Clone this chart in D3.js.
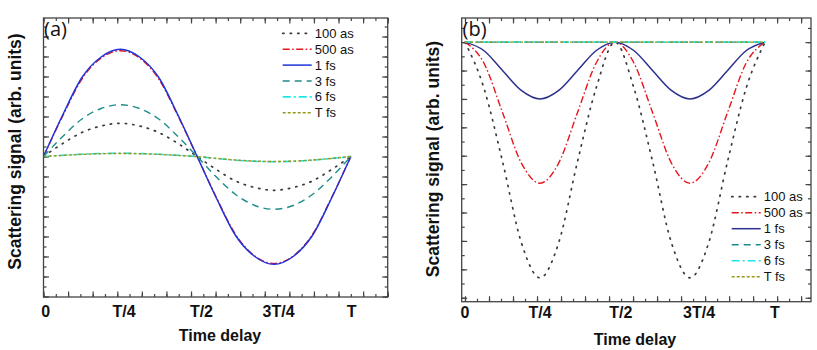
<!DOCTYPE html>
<html>
<head>
<meta charset="utf-8">
<script src="https://d3js.org/d3.v7.min.js"></script>
<style>
    body { margin: 0; background: #fff; }
    svg { display: block; background: #fff; }
    .frame { fill: none; stroke: #444; stroke-width: 1.3px; }
    .axis line { stroke: #444; stroke-width: 1.2px; }
    .axis path.domain { display: none; }
    .tick-label { font-family: 'Liberation Sans', Arial, sans-serif; font-weight: bold; font-size: 16px; fill: #111; text-anchor: middle; }
    .axis-title { font-family: 'Liberation Sans', Arial, sans-serif; font-weight: bold; fill: #111; text-anchor: middle; }
    .legend-text { font-family: 'Liberation Sans', Arial, sans-serif; font-size: 13px; fill: #111; }
    .panel-tag { font-family: 'Open Sans', 'Noto Sans', sans-serif; font-size: 20px; fill: #111; }
    .curve { fill: none; }
</style>
</head>
<body>
<svg id="chart" width="817" height="350"></svg>
<script>
    // time delay sample points (fraction of T)
    const delay = [0, 0.0625, 0.125, 0.1875, 0.25, 0.3125, 0.375, 0.4375, 0.5,
                   0.5625, 0.625, 0.6875, 0.75, 0.8125, 0.875, 0.9375, 1];

    const seriesNames = ["100 as", "500 as", "1 fs", "3 fs", "6 fs", "T fs"];
    const xTickText = ["0", "T/4", "T/2", "3T/4", "T"];
    // where the tick labels sit on each panel (in units of T)
    const xTickAtA = [0.007, 0.262, 0.514, 0.765, 1.003];
    const xTickAtB = [0, 0.25, 0.519, 0.78, 1.033];

    // panel (a), arb. units
    const a100as = [0, 1.3, 2.4, 3.05, 3.32, 3.05, 2.4, 1.3, 0, -1.3, -2.45, -3.1, -3.38, -3.1, -2.45, -1.3, 0];
    const a500as = [0, 4.05, 7.75, 9.85, 10.58, 9.85, 7.75, 4.05, 0, -4.1, -7.8, -9.95, -10.7, -9.95, -7.8, -4.1, 0];
    const a1fs   = [0, 4.15, 7.9, 9.95, 10.72, 9.95, 7.9, 4.15, 0, -4.15, -7.9, -10.0, -10.78, -10.0, -7.9, -4.15, 0];
    const a3fs   = [0, 2.0, 3.75, 4.8, 5.18, 4.8, 3.75, 2.0, 0, -2.05, -3.8, -4.9, -5.28, -4.9, -3.8, -2.05, 0];
    const a6fs   = [0, 0.12, 0.23, 0.3, 0.32, 0.3, 0.23, 0.12, 0, -0.2, -0.37, -0.48, -0.52, -0.48, -0.37, -0.2, 0];
    const aTfs   = [0, 0.11, 0.21, 0.28, 0.3, 0.28, 0.21, 0.11, 0, -0.19, -0.35, -0.46, -0.5, -0.46, -0.35, -0.19, 0];

    // panel (b), arb. units
    const b100as = [18, 14.8, 9.6, 3.9, 1.4, 3.9, 9.6, 14.8, 18, 14.8, 9.6, 3.9, 1.4, 3.9, 9.6, 14.8, 18];
    const b500as = [18, 16.55, 13.05, 9.5, 8.06, 9.5, 13.05, 16.55, 18, 16.55, 13.05, 9.5, 8.06, 9.5, 13.05, 16.55, 18];
    const b1fs   = [18, 17.41, 16.0, 14.6, 14.0, 14.6, 16.0, 17.41, 18, 17.41, 16.0, 14.6, 14.0, 14.6, 16.0, 17.41, 18];
    const b3fs   = [18, 18, 18, 18, 18, 18, 18, 18, 18, 18, 18, 18, 18, 18, 18, 18, 18];
    const b6fs   = [18, 18, 18, 18, 18, 18, 18, 18, 18, 18, 18, 18, 18, 18, 18, 18, 18];
    const bTfs   = [18, 18, 18, 18, 18, 18, 18, 18, 18, 18, 18, 18, 18, 18, 18, 18, 18];

    const styles = [
        { color: "#3a3a3a", dash: "1.3,6.2", width: 1.7, cap: "round" },
        { color: "#e8141b", dash: "7,2.5,1.5,2.5", width: 1.4, cap: "butt" },
        { color: "#1f33d8", dash: null, width: 1.5, cap: "butt" },
        { color: "#1d8c8c", dash: "7,5", width: 1.4, cap: "butt" },
        { color: "#1fe6e6", dash: "8,3,2,3", width: 1.6, cap: "butt" },
        { color: "#97971a", dash: "3,2", width: 1.4, cap: "butt" }
    ];

    const svg = d3.select("#chart");

    const panels = [
        {
            tag: "(a)", tagX: 44, tagY: 36,
            left: 43.5, right: 387.7, top: 18, bottom: 297,
            xDomain: [0, 1.12], yDomain: [-14.05, 13.85],
            series: [a100as, a500as, a1fs, a3fs, a6fs, aTfs],
            blue: "#1f33d8",
            tickAt: xTickAtA, tickY: 316.5,
            xTitleX: 220, xTitleY: 340.5,
            yTitleX: 21, yTitleY: 151.5,
            legX: 282.7, legY: 33.3, legStep: 15.9
        },
        {
            tag: "(b)", tagX: 462.5, tagY: 36,
            left: 461.7, right: 811, top: 18, bottom: 301.7,
            xDomain: [-0.011, 1.153], yDomain: [-0.28, 19.7],
            series: [b100as, b500as, b1fs, b3fs, b6fs, bTfs],
            blue: "#2d318e",
            tickAt: xTickAtB, tickY: 318,
            xTitleX: 635, xTitleY: 344.5,
            yTitleX: 439, yTitleY: 159,
            legX: 731.7, legY: 196.7, legStep: 16
        }
    ];

    panels.forEach((p, pi) => drawPanel(p, pi));

    function drawPanel(p, pi) {
        const g = svg.append("g");
        const x = d3.scaleLinear().domain(p.xDomain).range([p.left, p.right]);
        const y = d3.scaleLinear().domain(p.yDomain).range([p.bottom, p.top]);

        // tick marks every 0.04 T, longer ones every 0.08 T
        const xMinor = d3.range(Math.ceil(p.xDomain[0] / 0.04), Math.floor(p.xDomain[1] / 0.04 + 1e-6) + 1).map(i => i * 0.04);
        const xMajor = xMinor.filter((d, i) => Math.round(d / 0.04) % 2 === 0);
        const yMinor = d3.range(Math.ceil(p.yDomain[0]), Math.floor(p.yDomain[1]) + 1);
        const yMajor = yMinor.filter(d => d % 2 === 0);

        const axes = [
            [d3.axisBottom, `translate(0,${p.bottom})`, x, xMinor, xMajor],
            [d3.axisTop, `translate(0,${p.top})`, x, xMinor, xMajor],
            [d3.axisLeft, `translate(${p.left},0)`, y, yMinor, yMajor],
            [d3.axisRight, `translate(${p.right},0)`, y, yMinor, yMajor]
        ];
        axes.forEach(([axisFn, tr, scale, minor, major]) => {
            g.append("g").attr("class", "axis").attr("transform", tr)
                .call(axisFn(scale).tickValues(minor).tickSizeInner(-3).tickSizeOuter(0).tickFormat(""));
            g.append("g").attr("class", "axis").attr("transform", tr)
                .call(axisFn(scale).tickValues(major).tickSizeInner(-5.5).tickSizeOuter(0).tickFormat(""));
        });

        // clip
        const clipId = "clip" + pi;
        svg.append("clipPath").attr("id", clipId)
            .append("rect")
            .attr("x", p.left).attr("y", p.top)
            .attr("width", p.right - p.left).attr("height", p.bottom - p.top);

        const line = d3.line()
            .x((d, i) => x(delay[i]))
            .y(d => y(d))
            .curve(d3.curveMonotoneX);

        const curves = g.append("g").attr("clip-path", `url(#${clipId})`);
        p.series.forEach((vals, si) => {
            const st = styles[si];
            curves.append("path")
                .attr("class", "curve")
                .attr("d", line(vals))
                .attr("stroke", si === 2 ? p.blue : st.color)
                .attr("stroke-width", st.width)
                .attr("stroke-linecap", st.cap)
                .attr("stroke-dasharray", st.dash);
        });

        g.append("rect").attr("class", "frame")
            .attr("x", p.left).attr("y", p.top)
            .attr("width", p.right - p.left).attr("height", p.bottom - p.top);

        // legend
        const leg = g.append("g");
        seriesNames.forEach((name, si) => {
            const st = styles[si];
            const ly = p.legY + si * p.legStep;
            leg.append("line")
                .attr("x1", p.legX).attr("x2", p.legX + 29)
                .attr("y1", ly).attr("y2", ly)
                .attr("stroke", si === 2 ? p.blue : st.color)
                .attr("stroke-width", st.width)
                .attr("stroke-linecap", st.cap)
                .attr("stroke-dasharray", st.dash);
            leg.append("text").attr("class", "legend-text")
                .attr("x", p.legX + 32).attr("y", ly + 4.5)
                .text(name);
        });

        // x tick labels
        g.selectAll(".tick-label").data(xTickText).join("text")
            .attr("class", "tick-label")
            .attr("x", (d, i) => x(p.tickAt[i]))
            .attr("y", p.tickY)
            .text(d => d);

        g.append("text").attr("class", "axis-title")
            .attr("x", p.xTitleX).attr("y", p.xTitleY)
            .style("font-size", "16px")
            .text("Time delay");

        g.append("text").attr("class", "axis-title")
            .attr("transform", `translate(${p.yTitleX},${p.yTitleY}) rotate(-90)`)
            .style("font-size", "17.5px")
            .text("Scattering signal (arb. units)");

        g.append("text").attr("class", "panel-tag")
            .attr("x", p.tagX).attr("y", p.tagY)
            .text(p.tag);
    }
</script>
</body>
</html>
